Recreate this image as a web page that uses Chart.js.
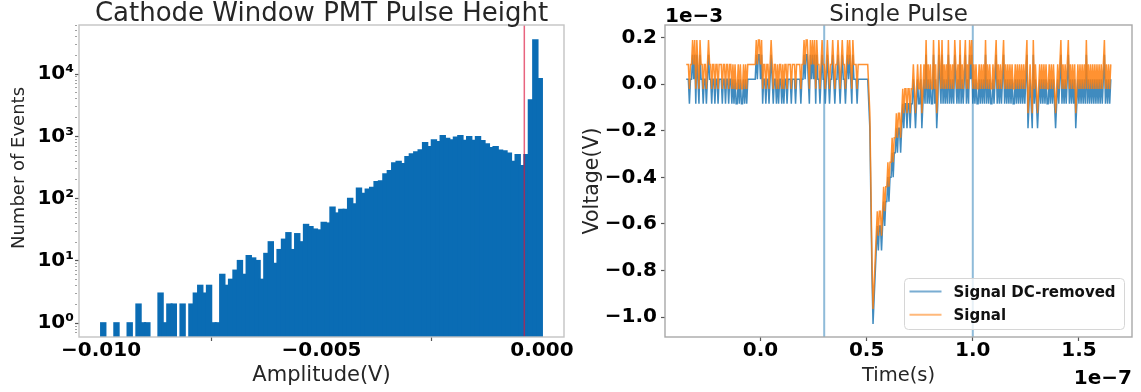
<!DOCTYPE html>
<html>
<head>
<meta charset="utf-8">
<title>Cathode window PMT</title>
<script src="https://cdn.jsdelivr.net/npm/chart.js@4.4.1/dist/chart.umd.min.js"></script>
<style>
  html, body { margin: 0; padding: 0; background: #fff; }
  #wrap { position: relative; width: 1141px; height: 392px; overflow: hidden; }
  canvas { position: absolute; top: 0; }
  #hist { left: 0; }
  #pulse { left: 575px; }
</style>
</head>
<body>
<div id="wrap">
  <canvas id="hist" width="575" height="392"></canvas>
  <canvas id="pulse" width="566" height="392"></canvas>
</div>
<script>
// ---- pulse height histogram: 100 bins of 0.1 mV from -10 mV to 0 ----
const BIN_LO_V = -0.010;
const BIN_WIDTH_V = 0.0001;
const binCounts = [
  1, 0, 0, 1, 0, 0, 1, 0, 2, 1,
  1, 0, 0, 3, 1, 2, 2, 0, 2, 0,
  2, 3, 4, 3, 4, 1, 1, 6, 4, 5,
  7, 10, 6, 12, 11, 10, 5, 13, 20, 9,
  15, 22, 28, 15, 27, 20, 38, 35, 32, 31,
  41, 40, 72, 58, 66, 66, 100, 81, 145, 120,
  140, 150, 185, 190, 247, 278, 370, 390, 360, 468,
  515, 555, 600, 780, 675, 865, 810, 1010, 915, 865,
  955, 1010, 850, 975, 850, 975, 840, 745, 650, 675,
  595, 575, 530, 390, 500, 335, 500, 3800, 35000, 8300
];
const CUT_V = -0.0004;          // threshold marker
const AMP_MIN = -0.0105, AMP_MAX = 0.0005;
const COUNT_MIN = 0.61, COUNT_MAX = 61400;
const ampTicks = [-0.010, -0.005, 0.000];
const ampTickLabels = ['\u22120.010', '\u22120.005', '0.000'];
const countMajorTicks = [1, 10, 100, 1000, 10000];
const countMajorLabels = ['10\u2070', '10\u00b9', '10\u00b2', '10\u00b3', '10\u2074'];
const countMinorMantissas = [2, 3, 4, 5, 6, 7, 8, 9];
const countMinorDecades = [0.1, 1, 10, 100, 1000, 10000];

// ---- single waveform, 0.5 ns sampling starting at -35 ns ----
const T0_NS = -35;
const DT_NS = 0.5;
const signalMv = [
  0.085,0.085,0.085,-0.02,0.085,0.085,0.19,0.085,0.19,-0.02,
  0.19,0.085,-0.02,0.19,0.085,0.085,-0.02,0.085,0.085,-0.02,
  0.085,0.19,0.085,0.085,-0.02,0.085,0.085,-0.02,0.085,0.085,
  -0.02,0.085,0.085,0.085,-0.02,0.085,0.085,-0.02,0.085,0.085,
  -0.02,0.085,0.085,-0.02,0.085,-0.02,0.085,-0.02,-0.02,0.085,
  -0.02,0.085,-0.02,-0.02,0.085,-0.02,0.085,-0.02,0.085,0.085,
  0.085,0.085,0.085,0.085,0.085,0.085,0.19,0.085,0.19,0.19,
  0.085,0.19,-0.02,0.085,0.085,-0.02,0.085,0.085,-0.02,0.085,
  0.19,0.085,-0.02,0.085,0.085,-0.02,0.085,-0.02,0.085,0.085,
  -0.02,0.085,-0.02,0.085,0.085,-0.02,0.085,0.085,0.085,-0.02,
  0.085,0.085,0.085,-0.02,0.085,0.085,0.085,0.085,-0.02,0.085,
  0.085,0.19,0.085,0.19,0.19,0.085,-0.02,0.19,0.085,0.19,
  0.085,0.19,-0.02,0.19,0.085,0.085,-0.02,0.085,0.19,0.085,
  0.085,-0.02,0.085,0.19,0.085,-0.02,0.085,0.085,0.19,0.085,
  -0.02,0.085,0.085,0.19,0.085,-0.02,0.085,0.19,0.085,0.085,
  -0.02,0.085,0.19,0.085,0.19,0.085,-0.02,0.19,0.085,0.085,
  0.085,-0.02,0.085,0.085,0.085,0.085,0.085,0.085,0.085,0.085,
  0.085,0.085,-0.02,-0.125,-0.44,-0.755,-0.965,-0.86,-0.755,-0.65,
  -0.545,-0.65,-0.545,-0.545,-0.65,-0.545,-0.44,-0.545,-0.44,-0.44,
  -0.335,-0.44,-0.335,-0.335,-0.23,-0.335,-0.23,-0.23,-0.125,-0.23,
  -0.125,-0.125,-0.23,-0.125,-0.02,-0.125,-0.02,-0.02,-0.125,-0.02,
  -0.02,-0.125,-0.02,-0.02,0.085,-0.02,-0.125,-0.02,0.085,-0.02,
  -0.02,0.085,-0.125,-0.02,0.085,-0.02,0.19,-0.02,0.085,-0.02,
  0.085,-0.02,-0.02,0.19,-0.02,0.085,-0.125,-0.02,0.19,0.085,
  -0.02,0.19,-0.02,0.085,-0.02,0.085,-0.02,0.19,-0.02,0.085,
  -0.02,0.085,-0.02,0.19,0.085,-0.02,0.085,-0.02,0.19,-0.02,
  0.085,-0.02,0.085,0.19,-0.02,0.085,-0.02,0.19,0.085,0.19,
  -0.02,0.085,-0.02,0.085,-0.02,-0.02,0.085,-0.02,0.085,-0.02,
  0.085,-0.02,0.19,-0.02,0.085,-0.02,0.085,-0.02,-0.02,0.085,
  -0.02,0.085,0.19,-0.02,0.085,-0.02,0.085,-0.02,0.085,0.19,
  -0.02,0.085,-0.02,0.085,-0.02,0.085,-0.02,0.085,-0.02,-0.02,
  0.085,-0.02,0.085,-0.02,0.085,-0.02,0.085,-0.02,0.085,-0.02,
  0.085,0.19,-0.125,-0.02,0.085,-0.02,-0.125,0.19,-0.02,0.085,
  -0.02,-0.125,-0.02,0.085,-0.02,0.085,-0.02,0.085,-0.02,0.085,
  -0.02,-0.02,0.085,-0.02,0.085,-0.02,0.085,-0.02,-0.125,-0.02,
  0.085,-0.02,0.085,0.19,-0.02,0.085,-0.02,0.085,-0.02,0.085,
  0.19,-0.02,0.085,-0.02,0.085,-0.02,0.085,-0.125,-0.02,0.085,
  -0.02,0.085,-0.02,0.085,-0.02,0.085,-0.02,0.19,-0.02,0.085,
  -0.02,0.085,-0.02,0.085,-0.02,0.085,-0.02,0.085,-0.02,0.085,
  -0.02,0.085,-0.02,0.085,0.19,-0.02,0.085,-0.02,0.085,-0.02,
  0.085
];
const dcRemovedMv = [
  0.021,0.021,0.021,-0.084,0.021,0.021,0.126,0.021,0.126,-0.084,
  0.126,0.021,-0.084,0.126,0.021,0.021,-0.084,0.021,0.021,-0.084,
  0.021,0.126,0.021,0.021,-0.084,0.021,0.021,-0.084,0.021,0.021,
  -0.084,0.021,0.021,0.021,-0.084,0.021,0.021,-0.084,0.021,0.021,
  -0.084,0.021,0.021,-0.084,0.021,-0.084,0.021,-0.084,-0.084,0.021,
  -0.084,0.021,-0.084,-0.084,0.021,-0.084,0.021,-0.084,0.021,0.021,
  0.021,0.021,0.021,0.021,0.021,0.021,0.126,0.021,0.126,0.126,
  0.021,0.126,-0.084,0.021,0.021,-0.084,0.021,0.021,-0.084,0.021,
  0.126,0.021,-0.084,0.021,0.021,-0.084,0.021,-0.084,0.021,0.021,
  -0.084,0.021,-0.084,0.021,0.021,-0.084,0.021,0.021,0.021,-0.084,
  0.021,0.021,0.021,-0.084,0.021,0.021,0.021,0.021,-0.084,0.021,
  0.021,0.126,0.021,0.126,0.126,0.021,-0.084,0.126,0.021,0.126,
  0.021,0.126,-0.084,0.126,0.021,0.021,-0.084,0.021,0.126,0.021,
  0.021,-0.084,0.021,0.126,0.021,-0.084,0.021,0.021,0.126,0.021,
  -0.084,0.021,0.021,0.126,0.021,-0.084,0.021,0.126,0.021,0.021,
  -0.084,0.021,0.126,0.021,0.126,0.021,-0.084,0.126,0.021,0.021,
  0.021,-0.084,0.021,0.021,0.021,0.021,0.021,0.021,0.021,0.021,
  0.021,0.021,-0.084,-0.189,-0.504,-0.819,-1.029,-0.924,-0.819,-0.714,
  -0.609,-0.714,-0.609,-0.609,-0.714,-0.609,-0.504,-0.609,-0.504,-0.504,
  -0.399,-0.504,-0.399,-0.399,-0.294,-0.399,-0.294,-0.294,-0.189,-0.294,
  -0.189,-0.189,-0.294,-0.189,-0.084,-0.189,-0.084,-0.084,-0.189,-0.084,
  -0.084,-0.189,-0.084,-0.084,0.021,-0.084,-0.189,-0.084,0.021,-0.084,
  -0.084,0.021,-0.189,-0.084,0.021,-0.084,0.126,-0.084,0.021,-0.084,
  0.021,-0.084,-0.084,0.126,-0.084,0.021,-0.189,-0.084,0.126,0.021,
  -0.084,0.126,-0.084,0.021,-0.084,0.021,-0.084,0.126,-0.084,0.021,
  -0.084,0.021,-0.084,0.126,0.021,-0.084,0.021,-0.084,0.126,-0.084,
  0.021,-0.084,0.021,0.126,-0.084,0.021,-0.084,0.126,0.021,0.126,
  -0.084,0.021,-0.084,0.021,-0.084,-0.084,0.021,-0.084,0.021,-0.084,
  0.021,-0.084,0.126,-0.084,0.021,-0.084,0.021,-0.084,-0.084,0.021,
  -0.084,0.021,0.126,-0.084,0.021,-0.084,0.021,-0.084,0.021,0.126,
  -0.084,0.021,-0.084,0.021,-0.084,0.021,-0.084,0.021,-0.084,-0.084,
  0.021,-0.084,0.021,-0.084,0.021,-0.084,0.021,-0.084,0.021,-0.084,
  0.021,0.126,-0.189,-0.084,0.021,-0.084,-0.189,0.126,-0.084,0.021,
  -0.084,-0.189,-0.084,0.021,-0.084,0.021,-0.084,0.021,-0.084,0.021,
  -0.084,-0.084,0.021,-0.084,0.021,-0.084,0.021,-0.084,-0.189,-0.084,
  0.021,-0.084,0.021,0.126,-0.084,0.021,-0.084,0.021,-0.084,0.021,
  0.126,-0.084,0.021,-0.084,0.021,-0.084,0.021,-0.189,-0.084,0.021,
  -0.084,0.021,-0.084,0.021,-0.084,0.021,-0.084,0.126,-0.084,0.021,
  -0.084,0.021,-0.084,0.021,-0.084,0.021,-0.084,0.021,-0.084,0.021,
  -0.084,0.021,-0.084,0.021,0.126,-0.084,0.021,-0.084,0.021,-0.084,
  0.021
];
const windowEdgesNs = [30, 100];
const TIME_MIN = -45, TIME_MAX = 175;
const VOLT_MIN = -1.085, VOLT_MAX = 0.254;
const timeTicksNs = [0, 50, 100, 150];
const timeTickLabels = ['0.0', '0.5', '1.0', '1.5'];
const voltTicksMv = [-1.0, -0.8, -0.6, -0.4, -0.2, 0.0, 0.2];
const voltTickLabels = ['\u22121.0', '\u22120.8', '\u22120.6', '\u22120.4', '\u22120.2', '0.0', '0.2'];

const C0 = '31,119,180';
const C1 = '255,127,14';
const FONT = 'DejaVu Sans';
Chart.defaults.font.family = FONT;

const tickFont = { family: FONT, size: 20, weight: 'bold', lineHeight: 1 };

// frame, titles, axis labels, offset texts and legend drawn on top of the plot
const panelDecor = {
  id: 'panelDecor',
  afterDraw(chart, args, opts) {
    const { ctx, chartArea: a } = chart;
    ctx.save();
    ctx.strokeStyle = opts.frameColor;
    ctx.lineWidth = 1.4;
    ctx.strokeRect(a.left, a.top, a.right - a.left, a.bottom - a.top);

    opts.texts.forEach(t => {
      const x = (t.ax === 'left' ? a.left : t.ax === 'right' ? a.right : (a.left + a.right) / 2) + (t.dx || 0);
      const y = (t.ay === 'top' ? a.top : t.ay === 'bottom' ? a.bottom : (a.top + a.bottom) / 2) + (t.dy || 0);
      ctx.font = t.font;
      ctx.fillStyle = t.color || '#262626';
      ctx.textAlign = t.align || 'center';
      ctx.textBaseline = 'alphabetic';
      if (t.rotate) {
        ctx.save();
        ctx.translate(x, y);
        ctx.rotate(-Math.PI / 2);
        ctx.fillText(t.text, 0, 0);
        ctx.restore();
      } else {
        ctx.fillText(t.text, x, y);
      }
    });

    const lg = opts.legend;
    if (lg) {
      const right = a.right - lg.inset, bottom = a.bottom - lg.inset;
      const left = right - lg.width, top = bottom - lg.height;
      ctx.beginPath();
      ctx.roundRect(left, top, lg.width, lg.height, 4);
      ctx.fillStyle = 'rgba(255,255,255,0.8)';
      ctx.fill();
      ctx.strokeStyle = '#d6d6d6';
      ctx.lineWidth = 1;
      ctx.stroke();
      ctx.font = 'bold 15px "' + FONT + '"';
      ctx.textAlign = 'left';
      ctx.textBaseline = 'alphabetic';
      lg.items.forEach((it, i) => {
        const ly = top + lg.firstRow + i * lg.rowGap;
        ctx.strokeStyle = it.color;
        ctx.lineWidth = 2;
        ctx.beginPath();
        ctx.moveTo(left + 5, ly);
        ctx.lineTo(left + 37, ly);
        ctx.stroke();
        ctx.fillStyle = '#111';
        ctx.fillText(it.label, left + 49, ly + 5.5);
      });
    }
    ctx.restore();
  }
};

// ---------------- histogram ----------------
const binPoints = binCounts.map((c, i) => ({
  x: BIN_LO_V + (i + 0.5) * BIN_WIDTH_V,
  y: c > 0 ? c : null
}));
const countMinorTicks = [];
countMinorDecades.forEach(d => countMinorMantissas.forEach(m => {
  const v = d * m;
  if (v > COUNT_MIN && v < COUNT_MAX) countMinorTicks.push(v);
}));
const isMajorCount = v => countMajorTicks.some(m => Math.abs(m - v) < 1e-9 * m);

new Chart(document.getElementById('hist'), {
  type: 'bar',
  data: {
    datasets: [
      {
        type: 'line',
        label: 'threshold',
        data: [{ x: CUT_V, y: COUNT_MIN }, { x: CUT_V, y: COUNT_MAX }],
        borderColor: 'rgba(220,20,60,0.66)',
        borderWidth: 1.5,
        pointRadius: 0,
        order: 0
      },
      {
        label: 'events',
        data: binPoints,
        backgroundColor: '#0a6cb4',
        borderWidth: 0,
        inflateAmount: 1,
        barPercentage: 1,
        categoryPercentage: 1,
        order: 1
      }
    ]
  },
  options: {
    responsive: false,
    animation: false,
    devicePixelRatio: 1,
    layout: { padding: { top: 25, right: 11, left: 0, bottom: 0 } },
    plugins: {
      legend: { display: false },
      tooltip: { enabled: false },
      panelDecor: {
        frameColor: '#c4c4c4',
        texts: [
          { text: 'Cathode Window PMT Pulse Height', font: '26px "' + FONT + '"', ay: 'top', dy: -4 },
          { text: 'Number of Events', font: '18px "' + FONT + '"', rotate: true, ax: 'left', dx: -55, dy: -13 },
          { text: 'Amplitude(V)', font: '21px "' + FONT + '"', ay: 'bottom', dy: 43.5 }
        ]
      }
    },
    scales: {
      x: {
        type: 'linear',
        min: AMP_MIN,
        max: AMP_MAX,
        offset: false,
        border: { display: false },
        grid: { drawOnChartArea: false, tickLength: 4, tickColor: '#555', tickWidth: 1.2 },
        ticks: {
          autoSkip: false, maxRotation: 0, padding: 0, color: '#000', font: tickFont,
          callback: (v, i) => ampTickLabels[i]
        },
        afterBuildTicks: s => { s.ticks = ampTicks.map(v => ({ value: v })); },
        afterFit: s => { s.height = 55; }
      },
      y: {
        type: 'logarithmic',
        min: COUNT_MIN,
        max: COUNT_MAX,
        border: { display: false },
        grid: {
          drawOnChartArea: false,
          tickLength: 4,
          tickColor: c => isMajorCount(c.tick.value) ? '#555' : '#888',
          tickWidth: c => isMajorCount(c.tick.value) ? 1.2 : 0.8,
          tickBorderDash: c => isMajorCount(c.tick.value) ? [] : [2, 10]
        },
        ticks: {
          autoSkip: false, padding: 1, color: '#000', font: tickFont,
          callback: v => {
            const k = countMajorTicks.findIndex(m => Math.abs(m - v) < 1e-9 * m);
            return k >= 0 ? countMajorLabels[k] : '';
          }
        },
        afterBuildTicks: s => {
          s.ticks = countMajorTicks.concat(countMinorTicks).sort((p, q) => p - q).map(v => ({ value: v }));
        },
        afterFit: s => { s.width = 79; }
      }
    }
  },
  plugins: [panelDecor]
});

// ---------------- single pulse ----------------
const sampleTimesNs = signalMv.map((_, i) => T0_NS + i * DT_NS);
const dcPoints = sampleTimesNs.map((t, i) => ({ x: t, y: dcRemovedMv[i] }));
const sigPoints = sampleTimesNs.map((t, i) => ({ x: t, y: signalMv[i] }));
const edgeSets = windowEdgesNs.map(t => ({
  label: 'window',
  data: [{ x: t, y: VOLT_MIN }, { x: t, y: VOLT_MAX }],
  borderColor: 'rgba(' + C0 + ',0.5)',
  borderWidth: 2,
  pointRadius: 0,
  order: 3
}));

new Chart(document.getElementById('pulse'), {
  type: 'line',
  data: {
    datasets: [
      {
        label: 'Signal DC-removed',
        data: dcPoints,
        borderColor: 'rgba(' + C0 + ',0.85)',
        borderWidth: 1.5,
        pointRadius: 0,
        order: 2
      },
      {
        label: 'Signal',
        data: sigPoints,
        borderColor: 'rgba(' + C1 + ',0.85)',
        borderWidth: 1.5,
        pointRadius: 0,
        order: 1
      },
      ...edgeSets
    ]
  },
  options: {
    responsive: false,
    animation: false,
    devicePixelRatio: 1,
    layout: { padding: { top: 25, right: 9, left: 0, bottom: 0 } },
    plugins: {
      legend: { display: false },
      tooltip: { enabled: false },
      panelDecor: {
        frameColor: '#a8a8a8',
        texts: [
          { text: 'Single Pulse', font: '23px "' + FONT + '"', ay: 'top', dy: -4 },
          { text: '1e\u22123', font: 'bold 20px "' + FONT + '"', color: '#000', align: 'left', ax: 'left', ay: 'top', dy: -3.5 },
          { text: 'Voltage(V)', font: '20.5px "' + FONT + '"', rotate: true, ax: 'left', dx: -67 },
          { text: 'Time(s)', font: '19.5px "' + FONT + '"', ay: 'bottom', dy: 44 },
          { text: '1e\u22127', font: 'bold 20px "' + FONT + '"', color: '#000', align: 'right', ax: 'right', ay: 'bottom', dy: 47 }
        ],
        legend: {
          inset: 7.5, width: 220, height: 51, firstRow: 13, rowGap: 23.3,
          items: [
            { label: 'Signal DC-removed', color: 'rgba(' + C0 + ',0.6)' },
            { label: 'Signal', color: 'rgba(' + C1 + ',0.55)' }
          ]
        }
      }
    },
    scales: {
      x: {
        type: 'linear',
        min: TIME_MIN,
        max: TIME_MAX,
        border: { display: false },
        grid: { drawOnChartArea: false, tickLength: 4, tickColor: '#555', tickWidth: 1.2 },
        ticks: {
          autoSkip: false, maxRotation: 0, padding: 0, color: '#000', font: tickFont,
          callback: (v, i) => timeTickLabels[i]
        },
        afterBuildTicks: s => { s.ticks = timeTicksNs.map(v => ({ value: v })); },
        afterFit: s => { s.height = 55; }
      },
      y: {
        type: 'linear',
        min: VOLT_MIN,
        max: VOLT_MAX,
        border: { display: false },
        grid: { drawOnChartArea: false, tickLength: 4, tickColor: '#555', tickWidth: 1.2 },
        ticks: {
          autoSkip: false, padding: 4, color: '#000', font: tickFont,
          callback: (v, i) => voltTickLabels[i]
        },
        afterBuildTicks: s => { s.ticks = voltTicksMv.map(v => ({ value: v })); },
        afterFit: s => { s.width = 90; }
      }
    }
  },
  plugins: [panelDecor]
});
</script>
</body>
</html>
